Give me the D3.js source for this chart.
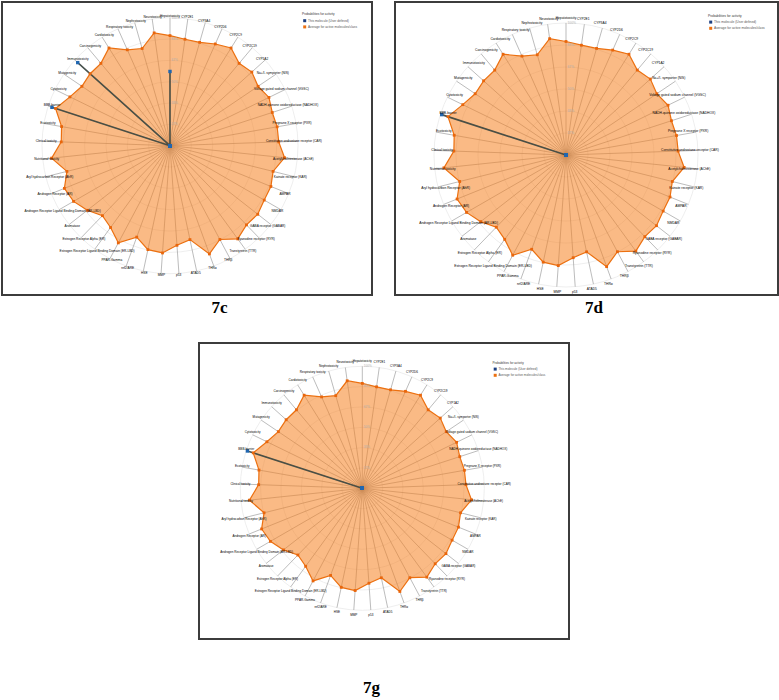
<!DOCTYPE html>
<html>
<head>
<meta charset="utf-8">
<script src="https://cdn.jsdelivr.net/npm/d3@7"></script>
<style>
  body { margin: 0; background: #fff; }
  svg { display: block; }
</style>
</head>
<body>
<script>
// axes of the toxicity radar, clockwise from the top
var axesNames = ["Hepatotoxicity", "CYP2E1", "CYP3A4", "CYP2D6", "CYP2C9", "CYP2C19", "CYP1A2",
  "Na+/I- symporter (NIS)", "Voltage gated sodium channel (VGSC)", "NADH-quinone oxidoreductase (NADHOX)",
  "Pregnane X receptor (PXR)", "Constitutive androstane receptor (CAR)", "Acetylcholinesterase (AChE)",
  "Kainate receptor (KAR)", "AMPAR", "NMDAR", "GABA receptor (GABAR)", "Ryanodine receptor (RYR)",
  "Transtyretrin (TTR)", "THRβ", "THRα", "ATAD5", "p53", "MMP", "HSE", "nrf2/ARE", "PPAR-Gamma",
  "Estrogen Receptor Ligand Binding Domain (ER-LBD)", "Estrogen Receptor Alpha (ER)", "Aromatase",
  "Androgen Receptor Ligand Binding Domain (AR-LBD)", "Androgen Receptor (AR)", "Aryl hydrocarbon Receptor (AhR)",
  "Nutritional toxicity", "Clinical toxicity", "Ecotoxicity", "BBB-barrier", "Cytotoxicity", "Mutagenicity",
  "Immunotoxicity", "Carcinogenicity", "Cardiotoxicity", "Respiratory toxicity", "Nephrotoxicity", "Neurotoxicity"];

// average for active molecules/class (same on every panel)
var activeAverage = [0.86, 0.84, 0.84, 0.87, 0.90, 0.84, 0.86,
  0.83, 0.86, 0.84,
  0.85, 0.85, 0.90,
  0.83, 0.85, 0.85, 0.87, 0.86,
  0.90, 0.83, 0.90, 0.75, 0.78, 0.84, 0.83, 0.76, 0.86,
  0.79, 0.76, 0.82,
  0.87, 0.89, 0.83,
  0.93, 0.85, 0.86, 0.94, 0.87, 0.83,
  0.84, 0.84, 0.90, 0.82, 0.79, 0.89];

// this molecule, one array per figure
var molecule7c = [0.58, 0, 0, 0, 0, 0, 0, 0, 0, 0, 0, 0, 0, 0, 0, 0, 0, 0, 0, 0, 0, 0, 0,
  0, 0, 0, 0, 0, 0, 0, 0, 0, 0, 0, 0, 0, 0.97, 0, 0, 0.97, 0, 0, 0, 0, 0];
var molecule7d = [0, 0, 0, 0, 0, 0, 0, 0, 0, 0, 0, 0, 0, 0, 0, 0, 0, 0, 0, 0, 0, 0, 0,
  0, 0, 0, 0, 0, 0, 0, 0, 0, 0, 0, 0, 0, 0.99, 0, 0, 0, 0, 0, 0, 0, 0];
var molecule7g = [0, 0, 0, 0, 0, 0, 0, 0, 0, 0, 0, 0, 0, 0, 0, 0, 0, 0, 0, 0, 0, 0, 0,
  0, 0, 0, 0, 0, 0, 0, 0, 0, 0, 0, 0, 0, 0.99, 0, 0, 0, 0, 0, 0, 0, 0];

var ringValues = [1/6, 2/6, 3/6, 4/6, 5/6, 1];
var legendTitle = "Probabilities for activity";
var legendNames = ["This molecule (User defined)", "Average for active molecules/class"];

var blueColor = "#1f4f94", orangeColor = "#ec7010";

// where each figure sits on the page
var panels = [
  {name: "7c", data: molecule7c, box: [2, 2, 370, 293], cx: 170, cy: 145.7, r: 128, lx: 124, ly: 130, leg: [302, 14.3], cap: [219.5, 313]},
  {name: "7d", data: molecule7d, box: [395, 2, 383, 293], cx: 566, cy: 155, r: 132, lx: 124, ly: 137, leg: [708, 15.7], cap: [594, 313]},
  {name: "7g", data: molecule7g, box: [199, 343, 370, 296], cx: 362.3, cy: 488.3, r: 122, lx: 122, ly: 127, leg: [492.5, 362.7], cap: [371.5, 693]}
];

var svg = d3.select("body").append("svg")
  .attr("width", 779)
  .attr("height", 700);

panels.forEach(function(p) { drawRadar(p); });

function drawRadar(p) {
  var n = axesNames.length;
  var fs = p.r * 0.025;

  // frame
  svg.append("rect")
    .attr("x", p.box[0]).attr("y", p.box[1])
    .attr("width", p.box[2]).attr("height", p.box[3])
    .attr("fill", "#fff")
    .attr("stroke", "#3c3c3c")
    .attr("stroke-width", 2);

  var rScale = d3.scaleLinear().domain([0, 1]).range([0, p.r]);
  var angle = d3.scaleLinear().domain([0, n]).range([0, 2 * Math.PI]);

  var g = svg.append("g")
    .attr("transform", "translate(" + p.cx + "," + p.cy + ")");

  // rings
  g.selectAll(".ring")
    .data(ringValues)
    .enter().append("circle")
    .attr("class", "ring")
    .attr("r", function(d) { return rScale(d); })
    .attr("fill", "none")
    .attr("stroke", "#e2e2e2")
    .attr("stroke-width", 0.6);

  // axis lines
  g.selectAll(".axis")
    .data(axesNames)
    .enter().append("line")
    .attr("class", "axis")
    .attr("x1", 0).attr("y1", 0)
    .attr("x2", function(d, i) { return rScale(1) * Math.sin(angle(i)); })
    .attr("y2", function(d, i) { return -rScale(1) * Math.cos(angle(i)); })
    .attr("stroke", "#8f8f8f")
    .attr("stroke-width", 0.6);

  var radar = d3.lineRadial()
    .angle(function(d, i) { return angle(i); })
    .radius(function(d) { return rScale(d); })
    .curve(d3.curveLinearClosed);

  // average polygon
  g.append("path")
    .attr("d", radar(activeAverage))
    .attr("fill", "#f58220")
    .attr("fill-opacity", 0.55)
    .attr("stroke", orangeColor)
    .attr("stroke-width", 1.2);

  // tick labels along the top axis
  g.selectAll(".tick")
    .data(ringValues)
    .enter().append("text")
    .attr("class", "tick")
    .attr("x", 1.5)
    .attr("y", function(d) { return -rScale(d); })
    .attr("dominant-baseline", "middle")
    .style("font-family", "Liberation Sans, Arial, sans-serif")
    .style("font-size", fs + "px")
    .attr("fill", "#b0b0b0")
    .text(function(d) { return d3.format(".0%")(d); });

  // molecule polygon
  g.append("path")
    .attr("d", radar(p.data))
    .attr("fill", blueColor)
    .attr("fill-opacity", 0.3)
    .attr("stroke", "#3a4640")
    .attr("stroke-width", 1.6)
    .attr("stroke-opacity", 0.9);

  var ds = 2.8;
  g.selectAll(".odot")
    .data(activeAverage)
    .enter().append("rect")
    .attr("class", "odot")
    .attr("x", function(d, i) { return rScale(d) * Math.sin(angle(i)) - ds / 2; })
    .attr("y", function(d, i) { return -rScale(d) * Math.cos(angle(i)) - ds / 2; })
    .attr("width", ds).attr("height", ds)
    .attr("fill", "#e9660c");

  var bs = 3.4;
  g.selectAll(".bdot")
    .data(p.data)
    .enter().append("rect")
    .attr("class", "bdot")
    .attr("x", function(d, i) { return rScale(d) * Math.sin(angle(i)) - bs / 2; })
    .attr("y", function(d, i) { return -rScale(d) * Math.cos(angle(i)) - bs / 2; })
    .attr("width", bs).attr("height", bs)
    .attr("fill", "#2066b0");

  // axis names
  g.selectAll(".label")
    .data(axesNames)
    .enter().append("text")
    .attr("class", "label")
    .attr("x", function(d, i) { return p.lx * Math.sin(angle(i)); })
    .attr("y", function(d, i) { return -p.ly * Math.cos(angle(i)); })
    .attr("text-anchor", "middle")
    .attr("dominant-baseline", "middle")
    .style("font-family", "Liberation Sans, Arial, sans-serif")
    .style("font-size", fs + "px")
    .attr("fill", "#000")
    .text(function(d) { return d; });

  // legend
  var lg = svg.append("g")
    .attr("transform", "translate(" + p.leg[0] + "," + p.leg[1] + ")");
  lg.append("text")
    .attr("x", 0).attr("y", 0)
    .attr("dominant-baseline", "middle")
    .style("font-family", "Liberation Sans, Arial, sans-serif")
    .style("font-size", fs + "px")
    .attr("fill", "#333")
    .text(legendTitle);
  var items = lg.selectAll(".legend")
    .data(legendNames)
    .enter().append("g")
    .attr("class", "legend")
    .attr("transform", function(d, i) { return "translate(0," + (6.4 + i * 6.2) + ")"; });
  items.append("rect")
    .attr("x", 1.2).attr("y", -1.5)
    .attr("width", 3).attr("height", 3)
    .attr("fill", function(d, i) { return i == 0 ? "#1d3f80" : orangeColor; });
  items.append("text")
    .attr("x", 6).attr("y", 0)
    .attr("dominant-baseline", "middle")
    .style("font-family", "Liberation Sans, Arial, sans-serif")
    .style("font-size", fs + "px")
    .attr("fill", "#555")
    .text(function(d) { return d; });

  // figure caption
  svg.append("text")
    .attr("x", p.cap[0]).attr("y", p.cap[1])
    .attr("text-anchor", "middle")
    .style("font-family", "Liberation Serif, Times New Roman, serif")
    .style("font-weight", "bold")
    .style("font-size", "17px")
    .attr("fill", "#000")
    .text(p.name);
}
</script>
</body>
</html>
